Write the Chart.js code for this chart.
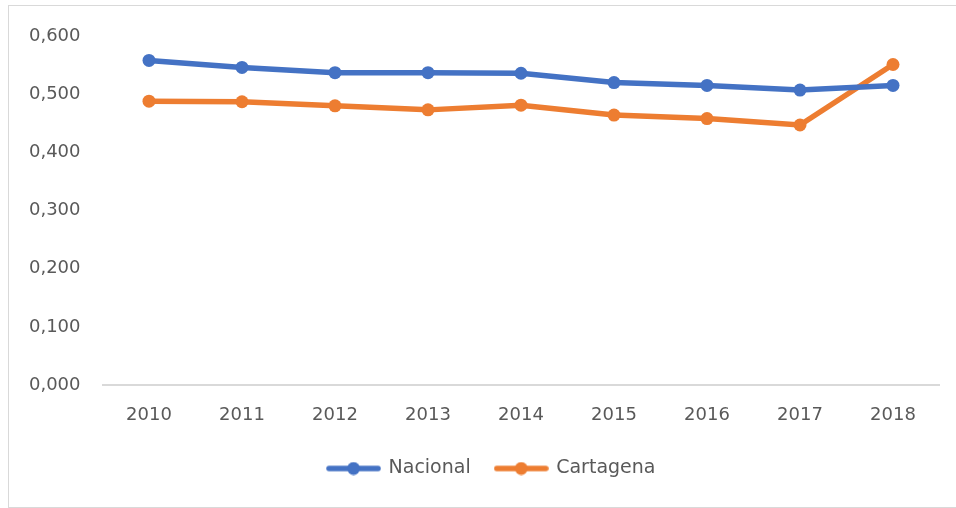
<!DOCTYPE html>
<html>
<head>
<meta charset="utf-8">
<script src="https://cdn.jsdelivr.net/npm/chart.js@4"></script>
<style>
  html, body { margin: 0; padding: 0; background: #fff; }
  #wrap { position: relative; width: 956px; height: 508px; overflow: hidden; }
  #frame { position: absolute; left: 8px; top: 5px; width: 980px; height: 501px; border: 1px solid #d9d9d9; }
  canvas { position: absolute; left: 0; top: 0; }
</style>
</head>
<body>
<div id="wrap">
  <div id="frame"></div>
  <canvas id="chart" width="956" height="508"></canvas>
</div>
<script>
// values
const years = ['2010', '2011', '2012', '2013', '2014', '2015', '2016', '2017', '2018'];
const nacional = [0.558, 0.546, 0.537, 0.537, 0.536, 0.520, 0.515, 0.507, 0.515];
const cartagena = [0.488, 0.487, 0.480, 0.473, 0.481, 0.464, 0.458, 0.447, 0.551];
const yTicks = [0, 0.1, 0.2, 0.3, 0.4, 0.5, 0.6];

const BLUE = '#4472C4';
const ORANGE = '#ED7D31';
const FONT = 'DejaVu Sans';

// little line + dot picture used as the legend marker
function legendMarker(color) {
    const c = document.createElement('canvas');
    c.width = 55; c.height = 14;
    const ctx = c.getContext('2d');
    ctx.strokeStyle = color;
    ctx.lineWidth = 5.5;
    ctx.lineCap = 'round';
    ctx.beginPath();
    ctx.moveTo(3, 7); ctx.lineTo(52, 7);
    ctx.stroke();
    ctx.fillStyle = color;
    ctx.beginPath();
    ctx.arc(27.5, 7, 6.5, 0, Math.PI * 2);
    ctx.fill();
    return c;
}
const markers = [legendMarker(BLUE), legendMarker(ORANGE)];

// the legend in the reference sits a bit right of centre
const legendShift = {
    id: 'legendShift',
    afterLayout(chart) {
        chart.legend.left += 22;
        chart.legend.right += 22;
    }
};

new Chart(document.getElementById('chart'), {
    type: 'line',
    data: {
        labels: years,
        datasets: [{
            label: 'Nacional',
            data: nacional,
            borderColor: BLUE,
            backgroundColor: BLUE,
            borderWidth: 5.5,
            pointRadius: 6.5,
            pointBorderWidth: 0,
            tension: 0
        }, {
            label: 'Cartagena',
            data: cartagena,
            borderColor: ORANGE,
            backgroundColor: ORANGE,
            borderWidth: 5.5,
            pointRadius: 6.5,
            pointBorderWidth: 0,
            tension: 0
        }]
    },
    plugins: [legendShift],
    options: {
        responsive: false,
        animation: false,
        layout: { padding: { top: 36, right: 16.5, bottom: 20, left: 0 } },
        plugins: {
            tooltip: { enabled: false },
            legend: {
                position: 'bottom',
                labels: {
                    usePointStyle: true,
                    pointStyleWidth: 51,
                    padding: 25,
                    color: '#595959',
                    font: { family: FONT, size: 19 },
                    generateLabels: chart => Chart.defaults.plugins.legend.labels.generateLabels(chart)
                        .map((l, i) => Object.assign(l, { pointStyle: markers[i] }))
                }
            }
        },
        scales: {
            x: {
                offset: true,
                grid: { display: false, drawTicks: false },
                border: { display: true, color: '#d9d9d9', width: 2 },
                ticks: { color: '#595959', padding: 20, font: { family: FONT, size: 18 } },
                afterFit: s => { s.height = 49; }
            },
            y: {
                min: 0,
                max: 0.6,
                afterBuildTicks: s => { s.ticks = yTicks.map(v => ({ value: v })); },
                grid: { display: false, drawTicks: false },
                border: { display: false },
                ticks: {
                    color: '#595959',
                    padding: 22,
                    font: { family: FONT, size: 18 },
                    callback: v => v.toFixed(3).replace('.', ',')
                },
                afterFit: s => { s.width = 102.5; }
            }
        }
    }
});
</script>
</body>
</html>
